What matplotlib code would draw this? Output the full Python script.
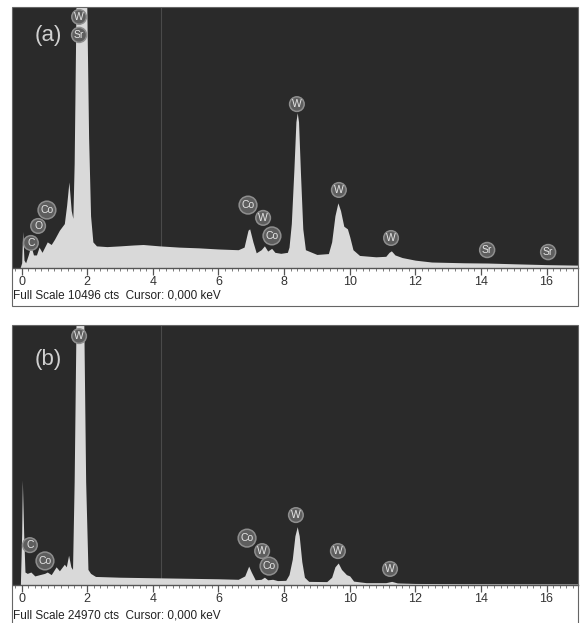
import matplotlib
matplotlib.use("Agg")
import matplotlib.pyplot as plt
from matplotlib.patches import Rectangle
from matplotlib.ticker import MultipleLocator

plt.rcParams['font.family'] = ['Liberation Sans', 'DejaVu Sans']

# spectrum (a): energy in keV, counts (full scale 10496 cts)
full_scale_a = 10496
energy_a = [-0.28, -0.05, 0.0, 0.03, 0.07, 0.12, 0.2, 0.28, 0.36, 0.45, 0.53, 0.62,
            0.78, 0.9, 1.0, 1.15, 1.3, 1.37, 1.44, 1.51, 1.56, 1.6, 1.66, 1.98, 2.04,
            2.1, 2.17, 2.28, 2.6, 3.0, 3.4, 3.7, 4.2, 4.8, 5.4, 6.0, 6.6, 6.78, 6.9,
            6.95, 7.05, 7.15, 7.3, 7.4, 7.5, 7.62, 7.72, 7.9, 8.1, 8.15, 8.22, 8.3,
            8.36, 8.4, 8.44, 8.5, 8.57, 8.65, 9.0, 9.35, 9.45, 9.55, 9.64, 9.72, 9.82,
            9.93, 10.0, 10.1, 10.3, 10.8, 11.1, 11.2, 11.27, 11.38, 11.6, 12.0, 12.5,
            13.5, 14.2, 15.0, 16.0, 17.0]
counts_a = [0, 0, 210, 1470, 315, 210, 525, 900, 525, 525, 840, 630,
            1050, 945, 1155, 1520, 1785, 2520, 3460, 2310, 1995, 4200, 11020, 11020, 5250,
            2100, 1050, 890, 860, 890, 925, 945, 890, 840, 810, 765, 735, 840, 1520,
            1575, 1050, 610, 735, 890, 680, 790, 630, 590, 630, 840, 1785, 3990,
            5880, 6245, 5880, 3780, 1575, 735, 545, 580, 1050, 2100, 2620, 2310, 1680,
            1575, 1260, 735, 505, 450, 470, 630, 690, 525, 420, 315, 240,
            210, 200, 170, 135, 115]

# spectrum (b): energy in keV, counts (full scale 24970 cts)
full_scale_b = 24970
energy_b = [-0.28, -0.04, 0.0, 0.02, 0.06, 0.1, 0.17, 0.28, 0.4, 0.55, 0.7, 0.78,
            0.9, 1.05, 1.15, 1.3, 1.36, 1.43, 1.5, 1.55, 1.6, 1.66, 1.89, 1.95,
            2.02, 2.1, 2.25, 3.0, 4.0, 5.0, 6.0, 6.6, 6.8, 6.92, 7.0, 7.12, 7.3,
            7.4, 7.5, 7.65, 7.8, 8.05, 8.15, 8.25, 8.33, 8.4, 8.46, 8.54, 8.62,
            8.75, 9.3, 9.45, 9.55, 9.65, 9.75, 9.9, 10.0, 10.12, 10.5, 11.1, 11.28,
            11.45, 12.0, 13.5, 17.0]
counts_b = [0, 0, 5000, 10110, 5000, 1250, 1120, 1250, 875, 1000, 1120, 1250,
            1000, 1750, 1370, 2000, 1750, 2870, 1750, 1500, 9990, 26220, 26220, 9990,
            1500, 1120, 825, 750, 700, 650, 600, 550, 875, 1820, 1250, 500, 550,
            750, 500, 550, 425, 450, 1000, 2500, 4740, 5620, 4740, 2250, 750,
            350, 325, 750, 1750, 2120, 1500, 1000, 875, 375, 225, 225, 350,
            200, 150, 125, 100]

# peak markers: element, energy (keV), height as fraction of full scale
labels_a = ['W', 'Sr', 'W', 'W', 'W', 'Sr', 'Sr', 'Co', 'W', 'Co', 'Co', 'O', 'C']
label_kev_a = [1.75, 1.75, 8.39, 9.67, 11.26, 14.19, 16.05, 6.90, 7.36, 7.63, 0.77, 0.50, 0.28]
label_pos_a = [0.962, 0.893, 0.628, 0.299, 0.115, 0.069, 0.061, 0.241, 0.192, 0.123, 0.222, 0.161, 0.096]

labels_b = ['W', 'W', 'W', 'W', 'Co', 'W', 'Co', 'C', 'Co']
label_kev_b = [1.75, 8.36, 9.64, 11.23, 6.87, 7.33, 7.54, 0.25, 0.71]
label_pos_b = [0.961, 0.270, 0.131, 0.062, 0.181, 0.131, 0.073, 0.154, 0.093]

tick_kev = [0, 2, 4, 6, 8, 10, 12, 14, 16]

W, H = 583, 623
fig = plt.figure(figsize=(W / 100, H / 100), dpi=100)
fig.patch.set_facecolor('white')


def px(x0, y_top, w, h):
    return [x0 / W, (H - y_top - h) / H, w / W, h / H]


def panel(rect, energy, counts, full, labels, lk, lp, tag, footer, frame, foot_y):
    ax = fig.add_axes(rect)
    ax.set_facecolor('#2a2a2a')
    ax.fill_between(energy, counts, 0, color='#d9d9d9', lw=0, zorder=2)
    ax.axvline(4.25, color='#4a4a4a', lw=0.8, zorder=1)
    ax.set_xlim(-0.28, 16.96)
    ax.set_ylim(0, full)
    for name, k, p in zip(labels, lk, lp):
        ax.text(k, p * full, name, ha='center', va='center', fontsize=7.5,
                color='#e6e6e6', zorder=4,
                bbox=dict(boxstyle='circle,pad=0.22', fc='#5e5e5e', ec='#8e8e8e', lw=1.1))
    ax.text(0.04, 0.89 if tag == '(a)' else 0.87, tag, transform=ax.transAxes,
            fontsize=16, color='#d0d0d0', ha='left', va='center', zorder=4)
    ax.set_yticks([])
    ax.set_xticks(tick_kev)
    ax.xaxis.set_minor_locator(MultipleLocator(0.2))
    ax.tick_params(axis='x', which='major', length=5, width=0.9, color='#555555',
                   labelsize=9, labelcolor='#333333', pad=1)
    ax.tick_params(axis='x', which='minor', length=2.5, width=0.6, color='#666666')
    for s in ['top', 'left', 'right']:
        ax.spines[s].set_visible(False)
    ax.spines['bottom'].set_color('#555555')
    ax.spines['bottom'].set_linewidth(1.0)
    fig.text(13 / W, (H - foot_y) / H, footer, fontsize=8.5, color='#222222',
             ha='left', va='center')
    fig.patches.append(Rectangle((frame[0] / W, (H - frame[3]) / H),
                                 (frame[2] - frame[0]) / W, (frame[3] - frame[1]) / H,
                                 transform=fig.transFigure, fill=False,
                                 ec='#666666', lw=0.8))
    return ax


panel(px(12.5, 7, 565.5, 261), energy_a, counts_a, full_scale_a,
      labels_a, label_kev_a, label_pos_a, '(a)',
      'Full Scale 10496 cts  Cursor: 0,000 keV', (12, 7, 578, 306), 295)
panel(px(12.5, 326, 565.5, 259), energy_b, counts_b, full_scale_b,
      labels_b, label_kev_b, label_pos_b, '(b)',
      'Full Scale 24970 cts  Cursor: 0,000 keV', (12, 325, 578, 640), 615)

fig.savefig('out.png', dpi=100)
